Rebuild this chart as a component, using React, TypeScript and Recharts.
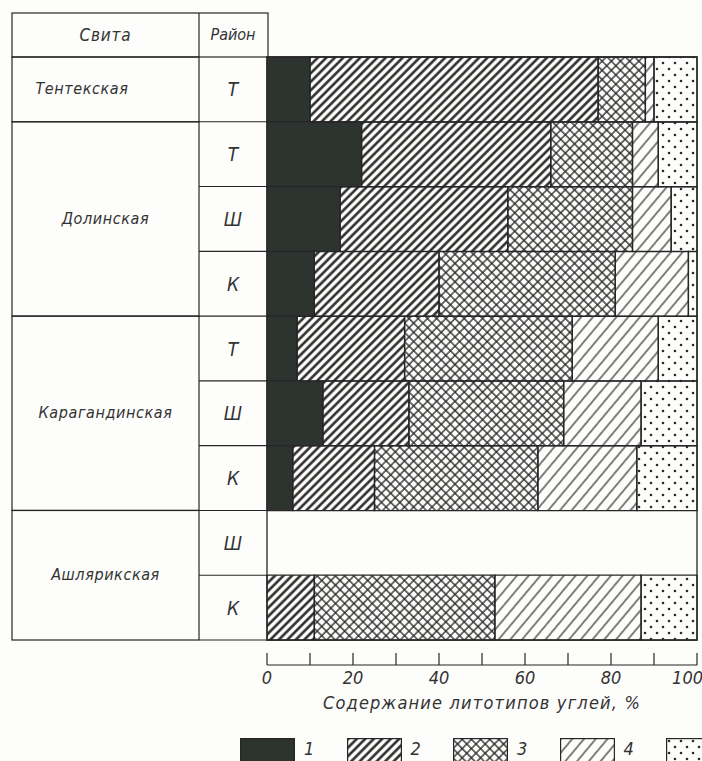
import { BarChart, Bar, XAxis, YAxis, Legend, ReferenceArea } from "recharts"

// rows of the table (свита / район) and lithotype shares, %
const suites = ["Тентекская", "Долинская", "Долинская", "Долинская", "Карагандинская", "Карагандинская", "Карагандинская", "Ашлярикская", "Ашлярикская"]
const districts = ["Т", "Т", "Ш", "К", "Т", "Ш", "К", "Ш", "К"]
const type1 = [10, 22, 17, 11, 7, 13, 6, null, null]
const type2 = [67, 44, 39, 29, 25, 20, 19, null, 11]
const type3 = [11, 19, 29, 41, 39, 36, 38, null, 42]
const type4 = [2, 6, 9, 17, 20, 18, 23, null, 34]
const type5 = [10, 9, 6, 2, 9, 13, 14, null, 13]
const xTicks = [0, 10, 20, 30, 40, 50, 60, 70, 80, 90, 100]
const legendLabels = ["1", "2", "3", "4", "5"]

const data = districts.map((d, i) => ({
  id: `r${i}`,
  t1: type1[i],
  t2: type2[i],
  t3: type3[i],
  t4: type4[i],
  t5: type5[i],
}))

const W = 702
const H = 761
const MARGIN = { top: 57, right: 5, bottom: 0, left: 12 }
const YAXIS_W = 255
const XAXIS_H = 98
const LEGEND_H = 23
const PLOT_H = H - MARGIN.top - MARGIN.bottom - XAXIS_H - LEGEND_H
const ROW_H = PLOT_H / districts.length
const TABLE_LEFT = MARGIN.left
const COL_DIV = 199
const HEADER_H = 44

const INK = "#262626"
const FONT = "'Liberation Sans Narrow', 'DejaVu Sans Condensed', 'DejaVu Sans', sans-serif"
const fills = ["#2d3430", "url(#hatch2)", "url(#hatch3)", "url(#hatch4)", "url(#dots5)"]

const textStyle = { fontFamily: FONT, fontStyle: "italic" as const, fill: "#333" }

const groupSpan = (i: number) => {
  let n = 1
  while (i + n < suites.length && suites[i + n] === suites[i]) n++
  return n
}

// left table drawn as the y axis ticks
const TableTick = (props: any) => {
  const { x, y, index } = props
  const top = y - ROW_H / 2
  const bottom = y + ROW_H / 2
  const first = index === 0 || suites[index] !== suites[index - 1]
  const span = first ? groupSpan(index) : 0
  return (
    <g>
      {index === 0 && (
        <g>
          <rect x={TABLE_LEFT} y={top - HEADER_H} width={x - TABLE_LEFT + 1} height={HEADER_H} fill="none" stroke={INK} strokeWidth={1.2} />
          <line x1={COL_DIV} x2={COL_DIV} y1={top - HEADER_H} y2={top} stroke={INK} strokeWidth={1.2} />
          <text x={(TABLE_LEFT + COL_DIV) / 2} y={top - HEADER_H / 2 + 6} textAnchor="middle" fontSize={17} letterSpacing={0.8} {...textStyle}>Свита</text>
          <text x={(COL_DIV + x) / 2} y={top - HEADER_H / 2 + 5} textAnchor="middle" fontSize={16} {...textStyle}>Район</text>
        </g>
      )}
      {first && (
        <g>
          <rect x={TABLE_LEFT} y={top} width={COL_DIV - TABLE_LEFT} height={span * ROW_H} fill="none" stroke={INK} strokeWidth={1.2} />
          <text
            x={index === 0 ? 82 : (TABLE_LEFT + COL_DIV) / 2}
            y={top + (span * ROW_H) / 2 + 5}
            textAnchor="middle"
            fontSize={16}
            letterSpacing={0.6}
            {...textStyle}
          >
            {suites[index]}
          </text>
        </g>
      )}
      <line x1={COL_DIV} x2={x} y1={bottom} y2={bottom} stroke={INK} strokeWidth={1.1} />
      <text x={(COL_DIV + x) / 2} y={y + 7} textAnchor="middle" fontSize={19} {...textStyle}>
        {districts[index]}
      </text>
    </g>
  )
}

// axis sits detached below the bars, ticks point up
const PercentTick = (props: any) => {
  const { x, y, payload } = props
  const v = payload.value
  const base = y + 25
  const last = v === 100
  return (
    <g>
      <line x1={x} x2={x} y1={base - 12} y2={base} stroke={INK} strokeWidth={1.2} />
      {v % 20 === 0 && (
        <text x={last ? x + 6 : x} y={base + 19} textAnchor={last ? "end" : "middle"} fontSize={18} {...textStyle}>
          {v}
        </text>
      )}
    </g>
  )
}

const AxisTitle = (props: any) => {
  const { viewBox } = props
  return (
    <text x={viewBox.x + viewBox.width / 2} y={viewBox.y + 69} textAnchor="middle" fontSize={18} letterSpacing={1.2} {...textStyle}>
      Содержание литотипов углей, %
    </text>
  )
}

// the fifth legend entry runs off the page edge, as in the source figure
const LegendBoxes = () => (
  <div style={{ height: LEGEND_H, overflow: "hidden", display: "flex", paddingLeft: 240, fontFamily: FONT, fontStyle: "italic", color: "#333" }}>
    {legendLabels.map((lab, i) => (
      <div key={lab} style={{ width: 106.5, flex: "none", display: "flex", alignItems: "flex-start" }}>
        <svg width={55} height={30} style={{ display: "block", flex: "none" }}>
          <rect x={0.6} y={0.6} width={53.8} height={28.8} fill={fills[i]} stroke={INK} strokeWidth={1.2} />
        </svg>
        {i < legendLabels.length - 1 && <span style={{ marginLeft: 9, fontSize: 18, lineHeight: "22px" }}>{lab}</span>}
      </div>
    ))}
  </div>
)

export default function App() {
  return (
    <div style={{ position: "absolute", left: 0, top: 0, width: W, height: H, overflow: "hidden", background: "#fdfdfb" }}>
      <BarChart width={W} height={H} data={data} layout="vertical" margin={MARGIN} barCategoryGap={0}>
        <defs>
          <pattern id="hatch2" width={6} height={6} patternUnits="userSpaceOnUse" patternTransform="rotate(45)">
            <line x1={1.5} x2={1.5} y1={0} y2={6} stroke="#1e1e1e" strokeWidth={2.4} />
          </pattern>
          <pattern id="hatch3" width={6.5} height={6.5} patternUnits="userSpaceOnUse" patternTransform="rotate(45)">
            <line x1={1} x2={1} y1={0} y2={6.5} stroke="#222" strokeWidth={1.3} />
            <line x1={0} x2={6.5} y1={1} y2={1} stroke="#222" strokeWidth={1.3} />
          </pattern>
          <pattern id="hatch4" width={9} height={9} patternUnits="userSpaceOnUse" patternTransform="rotate(40)">
            <line x1={1} x2={1} y1={0} y2={9} stroke="#2a2a2a" strokeWidth={1.2} />
          </pattern>
          <pattern id="dots5" width={12} height={12} patternUnits="userSpaceOnUse">
            <circle cx={3} cy={3} r={1.3} fill="#2a2a2a" />
            <circle cx={9} cy={9} r={1.3} fill="#2a2a2a" />
          </pattern>
        </defs>
        <XAxis
          type="number"
          domain={[0, 100]}
          ticks={xTicks}
          interval={0}
          height={XAXIS_H}
          tickSize={0}
          tickMargin={0}
          tickLine={false}
          axisLine={{ stroke: INK, strokeWidth: 1.2, transform: "translate(0,25)" }}
          tick={<PercentTick />}
          label={<AxisTitle />}
        />
        <YAxis
          type="category"
          dataKey="id"
          width={YAXIS_W}
          tickSize={0}
          tickMargin={0}
          tickLine={false}
          axisLine={false}
          interval={0}
          tick={<TableTick />}
        />
        <Bar dataKey="t1" stackId="a" fill={fills[0]} stroke={INK} strokeWidth={1.3} isAnimationActive={false} />
        <Bar dataKey="t2" stackId="a" fill={fills[1]} stroke={INK} strokeWidth={1.3} isAnimationActive={false} />
        <Bar dataKey="t3" stackId="a" fill={fills[2]} stroke={INK} strokeWidth={1.3} isAnimationActive={false} />
        <Bar dataKey="t4" stackId="a" fill={fills[3]} stroke={INK} strokeWidth={1.3} isAnimationActive={false} />
        <Bar dataKey="t5" stackId="a" fill={fills[4]} stroke={INK} strokeWidth={1.3} isAnimationActive={false} />
        <ReferenceArea x1={0} x2={100} fill="none" stroke={INK} strokeWidth={1.3} ifOverflow="visible" />
        <Legend
          verticalAlign="bottom"
          height={LEGEND_H}
          wrapperStyle={{ left: 0, width: W, bottom: 0 }}
          content={<LegendBoxes />}
        />
      </BarChart>
    </div>
  )
}
